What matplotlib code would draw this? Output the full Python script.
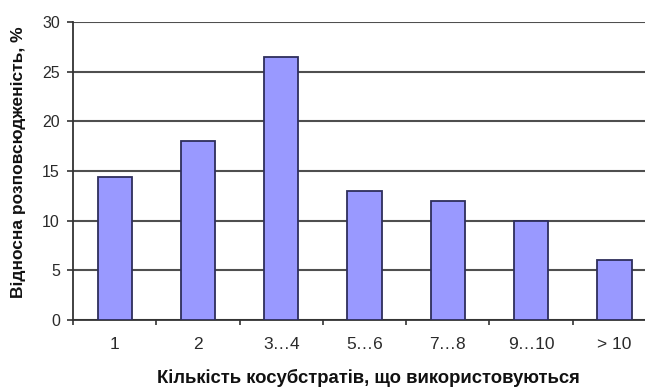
import matplotlib
matplotlib.use("Agg")
import matplotlib.pyplot as plt
import numpy as np

categories = ["1", "2", "3…4", "5…6", "7…8", "9…10", "> 10"]
values = [14.4, 18.0, 26.5, 13.0, 12.0, 10.0, 6.0]
y_ticks = [0, 5, 10, 15, 20, 25, 30]

plt.rcParams["font.family"] = ["Liberation Sans", "DejaVu Sans"]

fig = plt.figure(figsize=(6.45, 3.87), dpi=100)
# plot area runs slightly past the right edge of the figure
ax = fig.add_axes([0.1132, 0.173, 0.904, 0.770])

x = np.arange(len(categories))
ax.bar(x, values, width=0.41, color="#9999FF", edgecolor="#2E2E5C", linewidth=1.3, zorder=3)

ax.set_xlim(-0.5, len(categories) - 0.5)
ax.set_ylim(0, 30)
ax.set_yticks(y_ticks)
ax.yaxis.grid(True, color="#4F4F4F", linewidth=1.5, zorder=0)
ax.set_axisbelow(True)

ax.set_xticks(x)
ax.set_xticklabels(categories)
ax.set_xticks(np.arange(-0.5, len(categories)), minor=True)
ax.tick_params(axis="x", which="major", length=0, pad=12, labelsize=12.5, labelcolor="#2A2A2A")
ax.tick_params(axis="x", which="minor", length=3.5, width=1.2, direction="out", color="#333333")
ax.tick_params(axis="y", length=4.5, width=1.2, direction="out", color="#333333",
               labelsize=11.5, labelcolor="#2A2A2A", pad=5)

for side in ("top", "right"):
    ax.spines[side].set_visible(False)
for side in ("left", "bottom"):
    ax.spines[side].set_color("#333333")
    ax.spines[side].set_linewidth(1.3)

fig.text(368 / 645, 4 / 387, "Кількість косубстратів, що використовуються",
         fontsize=13.3, fontweight="bold", ha="center", va="baseline", color="#111111")
fig.text(19 / 645, 1 - 162 / 387, "Відносна розповсюдженість, %", rotation=90,
         fontsize=12.5, fontweight="bold", ha="center", va="center", color="#111111")

fig.savefig("out.png", dpi=100)
